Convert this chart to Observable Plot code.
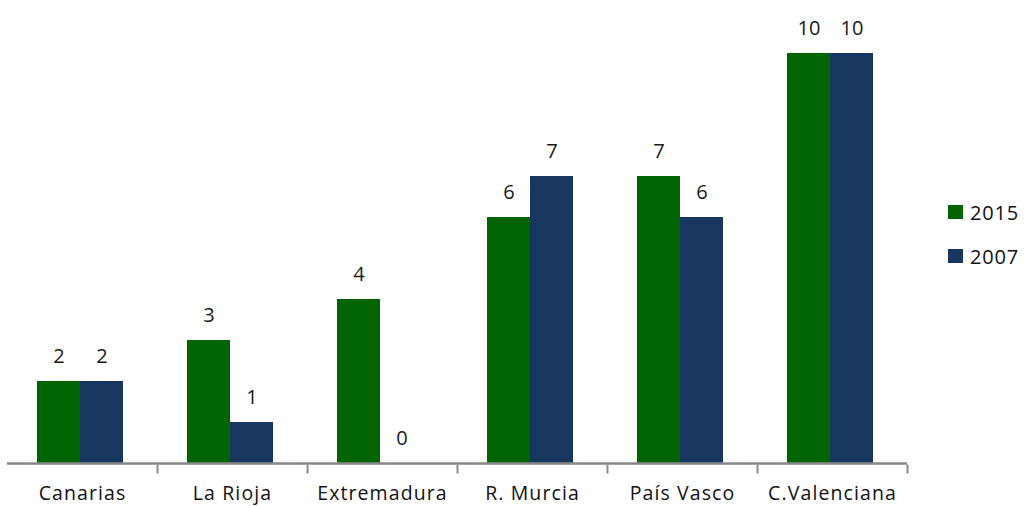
<!DOCTYPE html>
<html>
<head>
<meta charset="utf-8">
<script src="https://cdn.jsdelivr.net/npm/d3@7"></script>
<script src="https://cdn.jsdelivr.net/npm/@observablehq/plot@0.6"></script>
<style>
  body { margin: 0; background: #fff; font-family: "Open Sans", sans-serif; }
  #wrap { position: relative; width: 1026px; height: 506px; }
  #legend { position: absolute; left: 948px; top: 199px; font-size: 20px; letter-spacing: 0.8px; color: #111; }
  .item { display: flex; align-items: center; height: 26px; margin-bottom: 18px; }
  .sw { width: 15px; height: 14px; margin-right: 7px; }
</style>
</head>
<body>
<div id="wrap"><div id="chart"></div><div id="legend"></div></div>
<script>
const categories = ["Canarias", "La Rioja", "Extremadura", "R. Murcia", "País Vasco", "C.Valenciana"];
const series = ["2015", "2007"];
const values2015 = [2, 3, 4, 6, 7, 10];
const values2007 = [2, 1, 0, 7, 6, 10];
const colors = ["#006400", "#17375e"];

const data = [];
categories.forEach((c, i) => {
  data.push({category: c, series: "2015", value: values2015[i]});
  data.push({category: c, series: "2007", value: values2007[i]});
});

const tickSymbol = { draw(ctx) { ctx.moveTo(0, 1); ctx.lineTo(0, 10); } };

const chart = Plot.plot({
  width: 1026,
  height: 506,
  marginLeft: 7,
  marginRight: 119,
  marginTop: 53,
  marginBottom: 43,
  style: { fontFamily: "Open Sans, sans-serif", background: "#fff" },
  fx: { domain: categories, padding: 0, label: null },
  x: { domain: series, axis: null, paddingInner: 0, paddingOuter: 0.74, align: 0.47 },
  y: { domain: [0, 10], axis: null },
  color: { domain: series, range: colors },
  marks: [
    Plot.barY(data, { fx: "category", x: "series", y: "value", fill: "series", inset: 0 }),
    Plot.ruleY([0], { stroke: "#888", strokeWidth: 2.5 }),
    Plot.dot(categories, { fx: d => d, frameAnchor: "bottom-right", symbol: tickSymbol, stroke: "#888", strokeWidth: 2, fill: "none" }),
    Plot.text(data, { fx: "category", x: "series", y: "value", text: d => String(d.value), dy: -25, fontSize: 20, fill: "#1a1a1a", style: "letter-spacing:0.5px" }),
    Plot.axisFx({ anchor: "bottom", tickSize: 0, tickPadding: 23, fontSize: 19.5, label: null, fill: "#111" })
  ]
});
chart.querySelectorAll("[aria-label='fx-axis tick label'] text").forEach(t => t.style.letterSpacing = "1.1px");
document.getElementById("chart").appendChild(chart);

const legend = document.getElementById("legend");
series.forEach((s, i) => {
  const item = document.createElement("div");
  item.className = "item";
  item.innerHTML = `<div class="sw" style="background:${colors[i]}"></div><span>${s}</span>`;
  legend.appendChild(item);
});
</script>
</body>
</html>
